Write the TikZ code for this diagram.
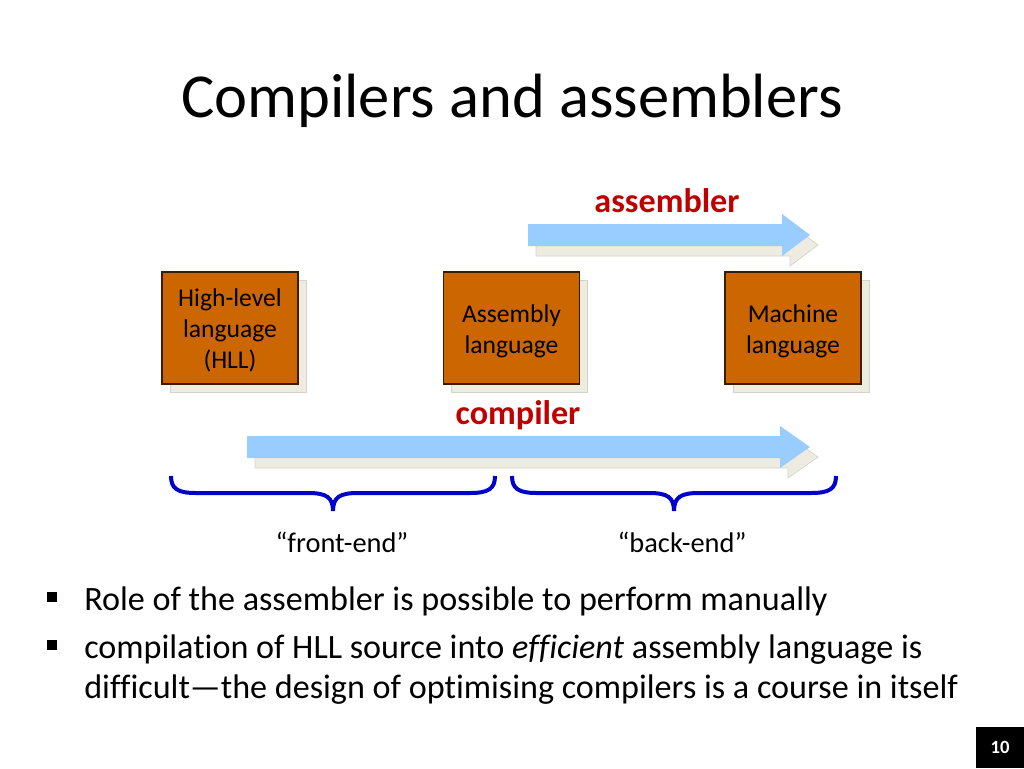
\documentclass[tikz,border=0pt]{standalone}
\usepackage{fontspec}
\setmainfont{Carlito}[Ligatures={NoCommon}]
\usetikzlibrary{shadows}
\definecolor{boxfill}{HTML}{CC6600}
\definecolor{boxline}{HTML}{3A1D00}
\definecolor{shadowc}{HTML}{EEECE1}
\definecolor{shadowline}{HTML}{D6D3C6}
\definecolor{arrowc}{HTML}{99CCFF}
\definecolor{redlab}{HTML}{C00000}
\definecolor{bracec}{HTML}{0000CC}
\begin{document}
\begin{tikzpicture}[x=0.75pt,y=-0.75pt,
  langbox/.style={draw=boxline, line width=1.1pt, fill=boxfill,
    minimum width=102pt, minimum height=84pt, inner sep=0pt,
    copy shadow={shadow xshift=6pt, shadow yshift=-6pt, fill=shadowc, draw=shadowline, line width=0.5pt}},
  boxtext/.style={inner sep=0pt, align=center, font=\fontsize{19.2}{23.25}\selectfont},
  blockarrow/.style={fill=arrowc, draw=none},
  arrowshadow/.style={fill=shadowc, draw=shadowline, line width=0.5pt},
  redlabel/.style={text=redlab, font=\fontsize{25.6}{30}\selectfont\bfseries, anchor=base, inner sep=0pt},
  bracelabel/.style={font=\fontsize{21.3}{25}\selectfont, anchor=base, inner sep=0pt},
  bracestyle/.style={draw=bracec, line width=3pt},
  bullettext/.style={font=\fontsize{25.6}{30}\selectfont, anchor=base west, inner sep=0pt},
  bulletmark/.style={fill=black, draw=none}
]
\useasboundingbox (0,0) rectangle (1024,768);
\fill[white] (0,0) rectangle (1024,768);

% title
\node[font=\fontsize{46.9}{56}\selectfont, anchor=base, inner sep=0pt] (title) at (512,117) {Compilers and assemblers};

% assembler arrow
\draw[arrowshadow] (536,234) -- (790,234) -- (790,224) -- (818,245) -- (790,266) -- (790,256) -- (536,256) -- cycle;
\fill[blockarrow] (528,224) -- (782,224) -- (782,214) -- (810,235) -- (782,256) -- (782,246) -- (528,246) -- cycle;
\node[redlabel] (asmlab) at (667,212) {assembler};

% boxes
\node[langbox] (hll) at (230,328) {};
\node[langbox] (asm) at (511.5,328) {};
\node[langbox] (mach) at (793,328) {};
\node[boxtext] (hllt) at ([yshift=-1.9pt]hll.center) {High-level\\language\\(HLL)};
\node[boxtext] (asmt) at ([yshift=-2.2pt]asm.center) {Assembly\\language};
\node[boxtext] (macht) at ([yshift=-2.2pt]mach.center) {Machine\\language};

% compiler arrow
\draw[arrowshadow] (255,446) -- (788,446) -- (788,436) -- (818,457) -- (788,478) -- (788,468) -- (255,468) -- cycle;
\fill[blockarrow] (247,436) -- (780,436) -- (780,426) -- (810,447) -- (780,468) -- (780,458) -- (247,458) -- cycle;
\node[redlabel] (complab) at (518,424) {compiler};

% braces
\draw[bracestyle] (171,476) .. controls (171,489) and (178,493) .. (196,493) -- (308,493)
  .. controls (326,493) and (333,497) .. (333,511) .. controls (333,497) and (340,493) .. (358,493)
  -- (470,493) .. controls (488,493) and (495,489) .. (495,476);
\draw[bracestyle] (512,476) .. controls (512,489) and (519,493) .. (537,493) -- (649,493)
  .. controls (667,493) and (674,497) .. (674,511) .. controls (674,497) and (681,493) .. (699,493)
  -- (811,493) .. controls (829,493) and (836,489) .. (836,476);
\node[bracelabel] (fe) at (342,552) {“front-end”};
\node[bracelabel] (be) at (682,552) {“back-end”};

% bullets
\fill[bulletmark] (47,592) rectangle (56.5,601.5);
\node[bullettext] (b1) at (84,610) {Role of the assembler is possible to perform manually};
\fill[bulletmark] (47,640) rectangle (56.5,649.5);
\node[bullettext] (b2) at (84,658) {compilation of HLL source into \emph{efficient} assembly language is};
\node[bullettext] (b3) at (84,698) {difficult—the design of optimising compilers is a course in itself};

% page number
\fill[black] (976,727) rectangle (1024,768);
\node[text=white, font=\fontsize{14}{16}\selectfont\bfseries] (pn) at (1000,747.5) {10};
\end{tikzpicture}
\end{document}
